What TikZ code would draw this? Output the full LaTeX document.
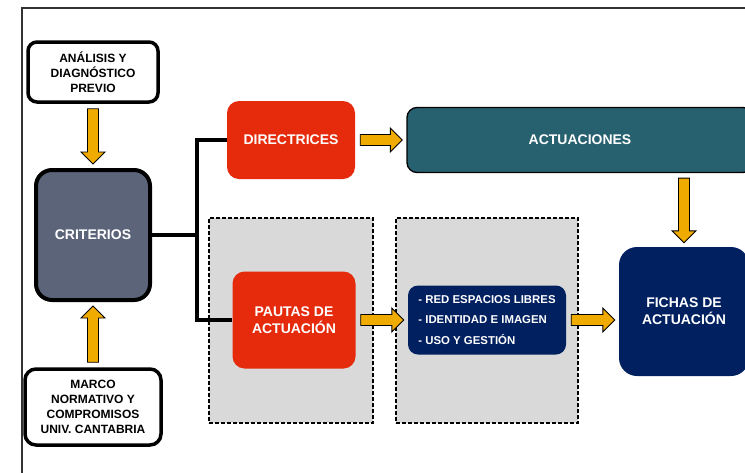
\documentclass[tikz,border=0pt]{standalone}
\usepackage{fontspec}
\setmainfont{Liberation Sans}
\usetikzlibrary{calc}
\definecolor{critslate}{HTML}{5B6479}
\definecolor{dirred}{HTML}{E52B0B}
\definecolor{actteal}{HTML}{27616F}
\definecolor{fichnavy}{HTML}{002060}
\definecolor{arrowgold}{HTML}{F0AB00}
\definecolor{groupgray}{HTML}{D9D9D9}
\begin{document}
\begin{tikzpicture}[x=1pt, y=-1pt,
    every node/.style={align=center, text=white, inner sep=0pt, font=\fontsize{14}{17}\selectfont\bfseries},
    whitebox/.style={draw=black, line width=3.5pt, fill=white, text=black, rounded corners=9pt, font=\fontsize{12}{15}\selectfont\bfseries},
    redbox/.style={fill=dirred, rounded corners=12pt},
    navybox/.style={fill=fichnavy, rounded corners=18pt},
    groupbox/.style={draw=black, dash pattern=on 4pt off 2pt, line width=1.2pt, fill=groupgray},
    conn/.style={draw=black, line width=3.5pt},
    fatarrow/.style={draw=black, line width=0.9pt, fill=arrowgold, to path={
        let \p1=(\tikztostart), \p2=(\tikztotarget),
            \p3=($(\p1)!5pt!(\p2)$), \p4=($(\p2)!4pt!(\p1)$), \p5=($(\p4)!12pt!(\p3)$) in
        ($(\p3)!5.5pt!90:(\p4)$) -- ($(\p5)!5.5pt!90:(\p4)$) -- ($(\p5)!12pt!90:(\p4)$) -- (\p4)
        -- ($(\p5)!12pt!-90:(\p4)$) -- ($(\p5)!5.5pt!-90:(\p4)$) -- ($(\p3)!5.5pt!-90:(\p4)$) -- cycle}}]
    \useasboundingbox (0,0) rectangle (745,472);
    \clip (0,0) rectangle (745,472);
    \draw[line width=1.2pt, black!80] (22,490) |- (760,8);

    \node[groupbox, minimum width=164pt, minimum height=205pt] (grp1) at (291,320.5) {};
    \node[groupbox, minimum width=182pt, minimum height=205pt] (grp2) at (487,320.5) {};

    \node[whitebox, minimum width=130pt, minimum height=60pt] (ana) at (93,72) {ANÁLISIS Y\\DIAGNÓSTICO\\PREVIO};
    \node[draw=black, line width=4pt, fill=critslate, rounded corners=16pt, minimum width=114pt, minimum height=130pt] (crit) at (93,235) {CRITERIOS};
    \node[whitebox, rounded corners=11pt, minimum width=136pt, minimum height=76pt] (marco) at (93,407) {MARCO\\NORMATIVO Y\\COMPROMISOS\\UNIV. CANTABRIA};
    \node[redbox, minimum width=128pt, minimum height=78pt] (dir) at (291,140) {DIRECTRICES};
    \node[redbox, minimum width=123pt, minimum height=97pt] (pau) at (294,320) {PAUTAS DE\\ACTUACIÓN};
    \node[draw=black, line width=1.3pt, fill=actteal, rounded corners=10pt, minimum width=346pt, minimum height=65pt] (act) at (580,140) {ACTUACIONES};
    \node[fill=fichnavy, rounded corners=10pt, minimum width=158pt, minimum height=69pt, align=left, font=\fontsize{11.4}{20.7}\selectfont\bfseries] (lst) at (487,320) {- RED ESPACIOS LIBRES\\- IDENTIDAD E IMAGEN\\- USO Y GESTIÓN};
    \node[navybox, minimum width=130pt, minimum height=129pt] (fich) at (684,311.5) {FICHAS DE\\ACTUACIÓN};

    \coordinate (split) at (197,235);
    \draw[conn] (crit.east) -- (split);
    \draw[conn] (dir.west) -| (split) |- (pau.west);

    \draw[fatarrow] (ana.south) to (crit.north);
    \draw[fatarrow] (marco.north) to (crit.south);
    \draw[fatarrow] (dir.east) to (act.west);
    \draw[fatarrow] (pau.east) to (lst.west);
    \draw[fatarrow] (lst.east) to (lst.east -| fich.west);
    \draw[fatarrow] (act.south -| fich.north) to (fich.north);
\end{tikzpicture}
\end{document}
